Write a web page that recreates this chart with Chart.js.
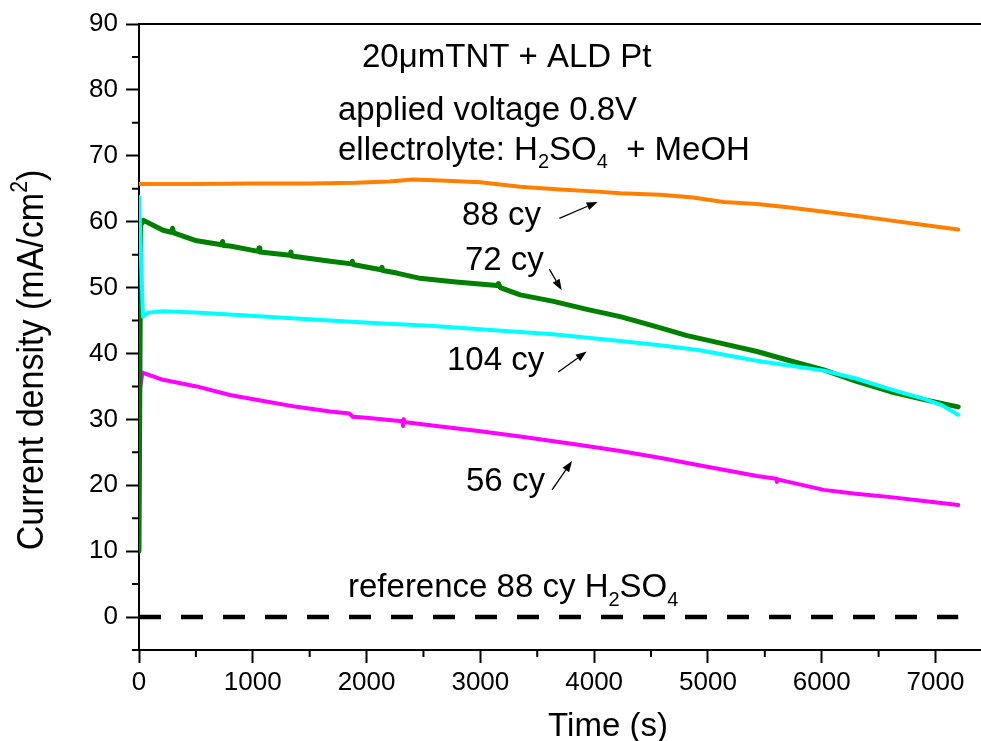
<!DOCTYPE html>
<html>
<head>
<meta charset="utf-8">
<title>Current density vs time</title>
<script src="https://cdn.jsdelivr.net/npm/chart.js@4.4.0/dist/chart.umd.min.js"></script>
<style>
  body { margin: 0; background: #fff; }
  canvas { display: block; }
</style>
</head>
<body>
<canvas id="chart" width="981" height="741"></canvas>
<script>
// === Data (time in s, current density in mA/cm2) ===
const t88 = [0, 500, 1000, 1500, 1900, 2200, 2400, 2600, 3000, 3350, 3700, 4000, 4230, 4580, 4850, 5140, 5430, 5700, 6020, 6300, 6600, 6900, 7200];
const j88 = [65.7, 65.7, 65.8, 65.8, 65.9, 66.1, 66.4, 66.3, 66.0, 65.3, 64.9, 64.6, 64.3, 64.1, 63.7, 63.0, 62.7, 62.2, 61.5, 60.9, 60.2, 59.5, 58.8];

const t72 = [0, 15, 40, 120, 211, 285, 295, 305, 507, 728, 735, 742, 800, 1048, 1055, 1062, 1328, 1335, 1342, 1680, 1868, 1875, 1882, 1973, 2128, 2135, 2142, 2266, 2471, 2762, 3146, 3160, 3175, 3351, 3643, 3937, 4230, 4522, 4817, 5130, 5432, 5720, 6018, 6300, 6605, 6900, 7200];
const j72 = [10.0, 59.5, 60.2, 59.5, 58.7, 58.4, 59.0, 58.3, 57.1, 56.5, 57.0, 56.4, 56.3, 55.5, 56.0, 55.4, 54.9, 55.4, 54.8, 54.0, 53.6, 54.0, 53.5, 53.2, 52.7, 53.1, 52.6, 52.2, 51.4, 50.9, 50.3, 50.6, 50.0, 48.9, 47.9, 46.7, 45.6, 44.2, 42.7, 41.5, 40.3, 38.9, 37.5, 35.8, 34.2, 33.0, 31.9];

const t104 = [0, 35, 80, 210, 500, 800, 1200, 1680, 2100, 2560, 3060, 3640, 4230, 4600, 4930, 5430, 6020, 6300, 6600, 6900, 7050, 7200];
const j104 = [63.8, 45.6, 46.2, 46.4, 46.2, 45.9, 45.5, 45.0, 44.6, 44.2, 43.6, 42.9, 41.9, 41.2, 40.5, 38.9, 37.4, 36.2, 34.6, 33.1, 32.2, 30.7];

const t56 = [5, 30, 211, 507, 800, 1093, 1387, 1680, 1850, 1880, 1973, 2316, 2320, 2324, 2328, 2560, 3000, 3351, 3800, 4230, 4600, 4934, 5432, 5600, 5606, 5612, 6018, 6300, 6605, 6900, 7200];
const j56 = [34.2, 37.1, 36.0, 35.0, 33.7, 32.8, 31.9, 31.2, 30.9, 30.4, 30.3, 29.7, 29.0, 30.0, 29.6, 29.1, 28.2, 27.4, 26.3, 25.2, 24.1, 23.0, 21.4, 21.0, 20.5, 20.9, 19.3, 18.7, 18.2, 17.6, 17.0];

const tRef = [0, 7200];
const jRef = [0, 0];

// === Ticks ===
const xTicks = [0, 1000, 2000, 3000, 4000, 5000, 6000, 7000];
const xMinor = [500, 1500, 2500, 3500, 4500, 5500, 6500];
const yTicks = [0, 10, 20, 30, 40, 50, 60, 70, 80, 90];
const yMinor = [-5, 5, 15, 25, 35, 45, 55, 65, 75, 85];

// === Text labels (anchored in data coordinates) ===
const FONT = '"Liberation Sans", Arial, sans-serif';
const notes = [
  { x: 1960, y: 83.5, parts: [{ t: '20\u03bcmTNT + ALD Pt' }] },
  { x: 1749, y: 75.4, parts: [{ t: 'applied voltage 0.8V' }] },
  { x: 1749, y: 69.4, parts: [{ t: 'ellectrolyte: H' }, { t: '2', sub: true }, { t: 'SO' }, { t: '4', sub: true }, { t: '  + MeOH' }] },
  { x: 1837, y: 3.0, parts: [{ t: 'reference 88 cy H' }, { t: '2', sub: true }, { t: 'SO' }, { t: '4', sub: true }] },
  { x: 2839, y: 59.5, parts: [{ t: '88 cy' }] },
  { x: 2865, y: 52.7, parts: [{ t: '72 cy' }] },
  { x: 2707, y: 37.5, parts: [{ t: '104 cy' }] },
  { x: 2874, y: 19.1, parts: [{ t: '56 cy' }] },
];
const arrows = [
  { from: [3694, 60.5], to: [4031, 63.0] },
  { from: [3606, 52.8], to: [3715, 49.6] },
  { from: [3685, 37.2], to: [3935, 40.3] },
  { from: [3630, 19.3], to: [3806, 23.7] },
];

function zip(xs, ys) {
  return xs.map((x, i) => ({ x, y: ys[i] }));
}

function drawRich(ctx, x, y, parts, size) {
  let cx = x;
  parts.forEach((p) => {
    const s = p.sub || p.sup ? Math.round(size * 0.62) : size;
    ctx.font = `${s}px ${FONT}`;
    const dy = p.sub ? size * 0.26 : p.sup ? -size * 0.42 : 0;
    ctx.fillText(p.t, cx, y + dy);
    cx += ctx.measureText(p.t).width;
  });
  return cx - x;
}

function richWidth(ctx, parts, size) {
  let w = 0;
  parts.forEach((p) => {
    const s = p.sub || p.sup ? Math.round(size * 0.62) : size;
    ctx.font = `${s}px ${FONT}`;
    w += ctx.measureText(p.t).width;
  });
  return w;
}

// === Extras: minor ticks, top frame, titles, notes, arrows ===
const extrasPlugin = {
  id: 'extras',
  afterDraw(chart) {
    const { ctx, chartArea: area, scales } = chart;
    const xs = scales.x, ys = scales.y;
    ctx.save();
    ctx.strokeStyle = '#000';
    ctx.fillStyle = '#000';
    ctx.lineWidth = 2;

    // top frame line
    ctx.beginPath();
    ctx.moveTo(area.left - 1, area.top);
    ctx.lineTo(area.right, area.top);
    ctx.stroke();

    // minor ticks
    ctx.beginPath();
    yMinor.forEach((v) => {
      const py = ys.getPixelForValue(v);
      ctx.moveTo(area.left - 7, py);
      ctx.lineTo(area.left, py);
    });
    xMinor.forEach((v) => {
      const px = xs.getPixelForValue(v);
      ctx.moveTo(px, area.bottom);
      ctx.lineTo(px, area.bottom + 7);
    });
    ctx.stroke();

    // axis titles
    ctx.textBaseline = 'alphabetic';
    ctx.textAlign = 'left';
    ctx.font = `33px ${FONT}`;
    const xt = 'Time (s)';
    const xw = ctx.measureText(xt).width;
    ctx.fillText(xt, 608 - xw / 2, 736);

    const yParts = [{ t: 'Current density (mA/cm' }, { t: '2', sup: true }, { t: ')' }];
    ctx.save();
    ctx.translate(43, 360);
    ctx.rotate(-Math.PI / 2);
    ctx.scale(0.92, 1);
    const yw = richWidth(ctx, yParts, 37);
    drawRich(ctx, -yw / 2, 0, yParts, 37);
    ctx.restore();

    // notes
    notes.forEach((n) => {
      drawRich(ctx, xs.getPixelForValue(n.x), ys.getPixelForValue(n.y), n.parts, 33);
    });

    // arrows
    ctx.lineWidth = 1.3;
    arrows.forEach((a) => {
      const x1 = xs.getPixelForValue(a.from[0]), y1 = ys.getPixelForValue(a.from[1]);
      const x2 = xs.getPixelForValue(a.to[0]), y2 = ys.getPixelForValue(a.to[1]);
      const ang = Math.atan2(y2 - y1, x2 - x1);
      const len = 11, half = 4;
      const bx = x2 - len * Math.cos(ang), by = y2 - len * Math.sin(ang);
      ctx.beginPath();
      ctx.moveTo(x1, y1);
      ctx.lineTo(bx, by);
      ctx.stroke();
      ctx.beginPath();
      ctx.moveTo(x2, y2);
      ctx.lineTo(bx + half * Math.sin(ang), by - half * Math.cos(ang));
      ctx.lineTo(bx - half * Math.sin(ang), by + half * Math.cos(ang));
      ctx.closePath();
      ctx.fill();
    });
    ctx.restore();
  },
};

function series(label, xs, ys, color, width, order, dash) {
  return {
    label,
    data: zip(xs, ys),
    showLine: true,
    borderColor: color,
    backgroundColor: color,
    borderWidth: width,
    borderDash: dash || [],
    borderJoinStyle: 'round',
    borderCapStyle: dash ? 'butt' : 'round',
    pointRadius: 0,
    tension: 0,
    order,
  };
}

// === Chart ===
function renderChart() {
  new Chart(document.getElementById('chart'), {
    type: 'scatter',
    data: {
      datasets: [
        series('104 cy', t104, j104, '#00FFFF', 4, 1),
        series('72 cy', t72, j72, '#008000', 5, 2),
        series('88 cy', t88, j88, '#FF8000', 4, 3),
        series('56 cy', t56, j56, '#FF00FF', 4, 4),
        series('reference 88 cy H2SO4', tRef, jRef, '#000000', 4.5, 5, [22, 20]),
      ],
    },
    options: {
      responsive: false,
      animation: false,
      layout: { padding: { top: 24, right: 0, left: 0, bottom: 0 } },
      plugins: { legend: { display: false }, tooltip: { enabled: false } },
      scales: {
        x: {
          type: 'linear',
          min: 0,
          max: 7400,
          afterFit: (s) => { s.height = 91; },
          afterBuildTicks: (s) => { s.ticks = xTicks.map((v) => ({ value: v })); },
          grid: { drawOnChartArea: false, drawTicks: true, tickLength: 13, tickWidth: 2, tickColor: '#000' },
          border: { display: true, color: '#000', width: 2 },
          ticks: { color: '#000', padding: 4, maxRotation: 0, font: { family: FONT, size: 26 }, callback: (v) => String(v) },
        },
        y: {
          min: -5,
          max: 90,
          afterFit: (s) => { s.width = 139; },
          afterBuildTicks: (s) => { s.ticks = yTicks.map((v) => ({ value: v })); },
          grid: { drawOnChartArea: false, drawTicks: true, tickLength: 13, tickWidth: 2, tickColor: '#000' },
          border: { display: true, color: '#000', width: 2 },
          ticks: { color: '#000', padding: 8, font: { family: FONT, size: 26 }, callback: (v) => String(v) },
        },
      },
    },
    plugins: [extrasPlugin],
  });
}

document.addEventListener('DOMContentLoaded', renderChart);
</script>
</body>
</html>
